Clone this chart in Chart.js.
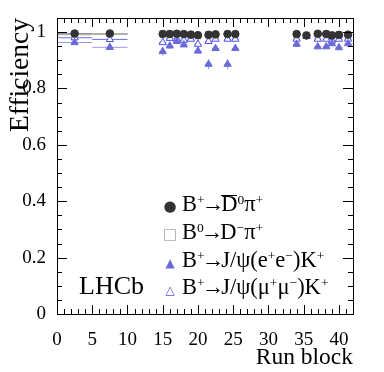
<!DOCTYPE html>
<html>
<head>
<meta charset="utf-8">
<script src="https://cdn.jsdelivr.net/npm/chart.js@4/dist/chart.umd.min.js"></script>
<style>
  html, body { margin: 0; padding: 0; background: #fff; }
  #wrap { position: relative; width: 384px; height: 372px; }
  #legend {
    position: absolute; left: 158px; top: 190px;
    font-family: "Liberation Serif", serif; font-size: 22.5px; color: #000;
  }
  #legend .row { height: 27.8px; line-height: 27.8px; white-space: nowrap; }
  #legend .mk { display: inline-block; width: 24px; text-align: center; font-family: "DejaVu Sans", sans-serif; }
  #legend sup { font-size: 0.6em; vertical-align: 0.55em; line-height: 0; }
  #legend .ar { margin: 0 -3px; }
  .ov { display: inline-block; border-top: 1.4px solid #000; line-height: 16px; }
  #lhcb {
    position: absolute; left: 79px; top: 271px;
    font-family: "Liberation Serif", serif; font-size: 26px; color: #000;
  }
</style>
</head>
<body>
<div id="wrap">
  <canvas id="effChart" width="384" height="372"></canvas>
  <div id="legend">
    <div class="row"><span class="mk" style="color:#333;font-size:15px">●</span>B<sup>+</sup><span class="ar">→</span><span class="ov">D</span><sup>0</sup>π<sup>+</sup></div>
    <div class="row"><span class="mk" style="color:#aaa;font-size:15px">□</span>B<sup>0</sup><span class="ar">→</span>D<sup>−</sup>π<sup>+</sup></div>
    <div class="row"><span class="mk" style="color:#6a6ad8;font-size:12px">▲</span>B<sup>+</sup><span class="ar">→</span>J/ψ(e<sup>+</sup>e<sup>−</sup>)K<sup>+</sup></div>
    <div class="row"><span class="mk" style="color:#4f4fe8;font-size:12px">△</span>B<sup>+</sup><span class="ar">→</span>J/ψ(μ<sup>+</sup>μ<sup>−</sup>)K<sup>+</sup></div>
  </div>
  <div id="lhcb">LHCb</div>
</div>
<script>
// run blocks (bin centres and half widths)
const runBlock = [2.5, 7.5, 15, 16, 17, 18, 19, 20, 21.5, 22.5, 24.2, 25.3, 34, 35.4, 37, 38.2, 39, 40, 41.3];
const blockHalfWidth = [2.5, 2.5, 0.5, 0.5, 0.5, 0.5, 0.5, 0.5, 0.5, 0.5, 0.5, 0.5, 0.5, 0.5, 0.5, 0.5, 0.5, 0.5, 0.5];

// efficiencies per channel
const effDpi = [0.995, 0.995, 0.993, 0.993, 0.994, 0.993, 0.991, 0.989, 0.990, 0.992, 0.993, 0.993, 0.993, 0.988, 0.994, 0.993, 0.988, 0.990, 0.991];
const errDpi = [0.001, 0.001, 0.002, 0.002, 0.002, 0.002, 0.002, 0.002, 0.002, 0.002, 0.002, 0.002, 0.002, 0.002, 0.002, 0.002, 0.002, 0.002, 0.002];
const effDmpi = [0.992, 0.993, 0.995, 0.995, 0.996, 0.992, 0.990, 0.986, 0.993, 0.990, 0.994, 0.992, 0.990, 0.990, 0.992, 0.995, 0.991, 0.992, 0.990];
const errDmpi = [0.002, 0.002, 0.002, 0.002, 0.002, 0.002, 0.002, 0.002, 0.002, 0.002, 0.002, 0.002, 0.002, 0.002, 0.002, 0.002, 0.002, 0.002, 0.002];
const effJpsiEE = [0.963, 0.946, 0.931, 0.951, 0.967, 0.955, 0.988, 0.933, 0.886, 0.942, 0.886, 0.942, 0.957, 0.985, 0.948, 0.948, 0.959, 0.945, 0.959];
const errJpsiEE = [0.004, 0.004, 0.015, 0.012, 0.008, 0.009, 0.008, 0.010, 0.018, 0.008, 0.018, 0.008, 0.006, 0.005, 0.005, 0.005, 0.006, 0.006, 0.006];
const effJpsiMM = [0.980, 0.974, 0.963, 0.978, 0.976, 0.971, 0.975, 0.957, 0.967, 0.975, 0.975, 0.975, 0.975, 0.985, 0.975, 0.975, 0.969, 0.975, 0.975];
const errJpsiMM = [0.002, 0.002, 0.006, 0.005, 0.004, 0.004, 0.004, 0.005, 0.004, 0.004, 0.004, 0.004, 0.003, 0.003, 0.003, 0.003, 0.003, 0.003, 0.003];

const xTickLabels = [0, 5, 10, 15, 20, 25, 30, 35, 40];
const serif = "'Liberation Serif', serif";

function points(ys) {
  return runBlock.map((x, i) => ({ x: x, y: ys[i] }));
}

// horizontal and vertical error bars
const errorBars = {
  id: "errorBars",
  beforeDatasetsDraw(chart) {
    const { ctx, scales: { x, y } } = chart;
    chart.data.datasets.forEach((ds) => {
      ctx.save();
      ctx.strokeStyle = ds.barColor;
      ctx.lineWidth = ds.barWidth || 1;
      ds.data.forEach((p, i) => {
        const px = x.getPixelForValue(p.x);
        const py = y.getPixelForValue(p.y);
        ctx.beginPath();
        ctx.moveTo(x.getPixelForValue(p.x - blockHalfWidth[i]), py);
        ctx.lineTo(x.getPixelForValue(p.x + blockHalfWidth[i]), py);
        ctx.moveTo(px, y.getPixelForValue(p.y - ds.yErr[i]));
        ctx.lineTo(px, y.getPixelForValue(p.y + ds.yErr[i]));
        ctx.stroke();
      });
      ctx.restore();
    });
  },
};

// ROOT style frame with inward ticks on all four sides
const frameTicks = {
  id: "frameTicks",
  afterDraw(chart) {
    const { ctx, chartArea: a, scales: { x, y } } = chart;
    ctx.save();
    ctx.strokeStyle = "#000";
    ctx.lineWidth = 1;
    ctx.strokeRect(a.left + 0.5, a.top + 0.5, a.right - a.left, a.bottom - a.top);
    ctx.beginPath();
    for (let v = 0; v <= 42; v++) {
      const px = Math.round(x.getPixelForValue(v)) + 0.5;
      const len = v % 5 === 0 ? 9 : 5;
      ctx.moveTo(px, a.bottom);
      ctx.lineTo(px, a.bottom - len);
      ctx.moveTo(px, a.top);
      ctx.lineTo(px, a.top + len);
    }
    for (let k = 0; k <= 21; k++) {
      const py = Math.round(y.getPixelForValue(k * 0.05)) + 0.5;
      const len = k % 4 === 0 ? 10 : 5;
      ctx.moveTo(a.left, py);
      ctx.lineTo(a.left + len, py);
      ctx.moveTo(a.right, py);
      ctx.lineTo(a.right - len, py);
    }
    ctx.stroke();
    ctx.restore();
  },
};

new Chart(document.getElementById("effChart"), {
  type: "scatter",
  data: {
    datasets: [
      {
        label: "B+→D0π+",
        data: points(effDpi),
        yErr: errDpi,
        barColor: "#444",
        pointStyle: "circle",
        radius: 3.8,
        backgroundColor: "#333",
        borderColor: "#333",
      },
      {
        label: "B0→D−π+",
        data: points(effDmpi),
        yErr: errDmpi,
        barColor: "#b0b0b0",
        barWidth: 2,
        pointStyle: "rect",
        radius: 4,
        backgroundColor: "rgba(255,255,255,0)",
        borderColor: "#aaa",
        borderWidth: 1,
      },
      {
        label: "B+→J/ψ(e+e−)K+",
        data: points(effJpsiEE),
        yErr: errJpsiEE,
        barColor: "#9a9ae6",
        pointStyle: "triangle",
        radius: 4.2,
        backgroundColor: "#6a6ad8",
        borderColor: "#6a6ad8",
      },
      {
        label: "B+→J/ψ(μ+μ−)K+",
        data: points(effJpsiMM),
        yErr: errJpsiMM,
        barColor: "#6f6fe8",
        pointStyle: "triangle",
        radius: 4.2,
        backgroundColor: "rgba(255,255,255,0.9)",
        borderColor: "#4f4fe8",
        borderWidth: 1,
      },
    ],
  },
  options: {
    responsive: false,
    animation: false,
    layout: { padding: { left: 0, right: 31, top: 18, bottom: 0 } },
    plugins: { legend: { display: false }, tooltip: { enabled: false } },
    scales: {
      x: {
        type: "linear",
        min: 0,
        max: 42,
        grid: { display: false },
        border: { display: false },
        afterFit: (scale) => { scale.height = 58; },
        afterBuildTicks: (scale) => { scale.ticks = xTickLabels.map((v) => ({ value: v })); },
        ticks: {
          padding: 7,
          color: "#000",
          maxRotation: 0,
          font: { family: serif, size: 19 },
        },
        title: {
          display: true,
          text: "Run block",
          align: "end",
          color: "#000",
          padding: { top: 0, bottom: 0 },
          font: { family: serif, size: 23.5 },
        },
      },
      y: {
        min: 0,
        max: 1.05,
        grid: { display: false },
        border: { display: false },
        afterFit: (scale) => { scale.width = 57; },
        ticks: {
          stepSize: 0.2,
          includeBounds: false,
          padding: 3,
          color: "#000",
          font: { family: serif, size: 19 },
          callback: (v) => String(+v.toFixed(2)),
        },
        title: {
          display: true,
          text: "Efficiency",
          align: "end",
          color: "#000",
          padding: { top: 4, bottom: 0 },
          font: { family: serif, size: 27.5 },
        },
      },
    },
  },
  plugins: [errorBars, frameTicks],
});
</script>
</body>
</html>
